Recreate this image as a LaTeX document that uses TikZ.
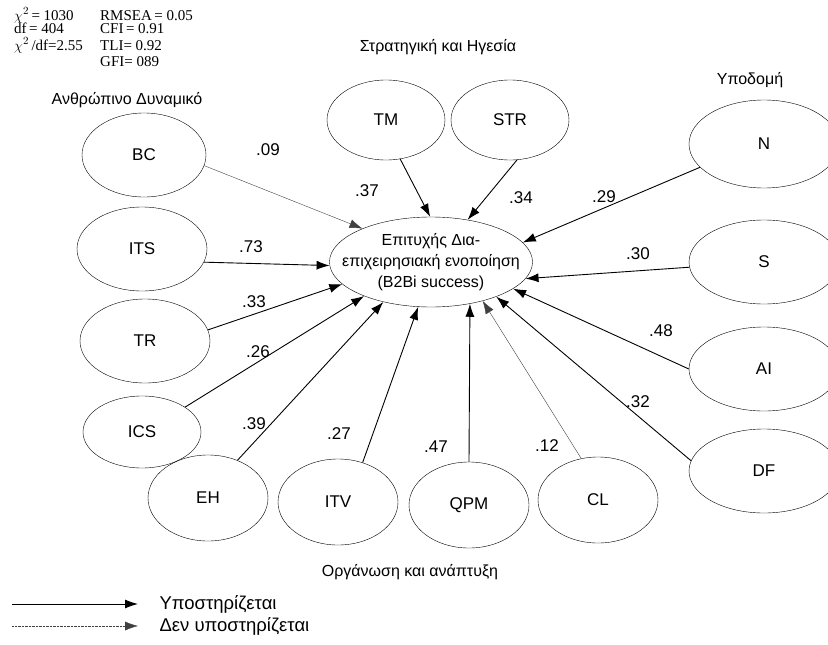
\documentclass[tikz,border=0pt]{standalone}
\usepackage{fontspec}
\setmainfont{Liberation Sans}
\newfontfamily\statfont{Liberation Serif}
\usetikzlibrary{shapes.geometric,arrows.meta,positioning}

\tikzset{
  factor/.style={draw, ellipse, inner sep=0pt, minimum width=120pt, minimum height=84pt,
    font=\fontsize{17}{19}\selectfont},
  sigline/.style={-{Latex[length=13pt,width=9pt]}, line width=0.9pt},
  nsline/.style={-{Latex[length=13pt,width=9pt]}, line width=0.4pt, black!75},
  coef/.style={font=\fontsize{17}{19}\selectfont},
  grouplbl/.style={font=\fontsize{16}{18}\selectfont},
  legendlbl/.style={font=\fontsize{18.5}{20}\selectfont, anchor=west},
  statlbl/.style={font=\statfont\fontsize{15}{16}\selectfont, anchor=base west, inner sep=0pt},
}

\begin{document}
\begin{tikzpicture}[x=1pt, y=1pt]
        \clip (0,0) rectangle (828,-645);

        % fit indices
        \node[statlbl] (chi) at (14,-20) {$\chi^2$\,= 1030};
        \node[statlbl] (df) at (14,-34) {df\,= 404};
        \node[statlbl] (chidf) at (14,-50) {$\chi^2$\,/df=2.55};
        \node[statlbl] (rmsea) at (100,-20) {RMSEA\,= 0.05};
        \node[statlbl] (cfi) at (100,-34) {CFI\,= 0.91};
        \node[statlbl] (tli) at (100,-50) {TLI= 0.92};
        \node[statlbl] (gfi) at (100,-66) {GFI= 089};

        % outcome
        \node[draw, ellipse, inner xsep=-17pt, inner ysep=3pt, minimum width=192pt, minimum height=90pt,
          align=center, font=\fontsize{16}{21}\selectfont] (b2bi) at (431,-262)
          {Επιτυχής Δια-\\επιχειρησιακή ενοποίηση\\(B2Bi success)};

        % Strategy and leadership
        \node[grouplbl] (strat) at (438,-47) {Στρατηγική και Ηγεσία};
        \node[factor, minimum width=118pt, minimum height=80pt] (TM) at (386,-120) {TM};
        \node[factor, minimum width=118pt, minimum height=80pt] (STR) at (510,-120) {STR};

        % Human capital
        \node[grouplbl] (human) at (127,-100) {Ανθρώπινο Δυναμικό};
        \node[factor, minimum width=124pt] (BC) at (144,-155) {BC};
        \node[factor, minimum width=130pt] (ITS) at (142,-249) {ITS};
        \node[factor, minimum width=130pt] (TR) at (145,-341) {TR};
        \node[factor, minimum width=118pt, minimum height=72pt] (ICS) at (142,-432) {ICS};

        % Organisation and development
        \node[factor, minimum height=86pt] (EH) at (208,-498) {EH};
        \node[factor, minimum height=86pt] (ITV) at (338,-502) {ITV};
        \node[factor, minimum height=86pt] (QPM) at (469,-505) {QPM};
        \node[factor, minimum height=86pt] (CL) at (598,-500) {CL};
        \node[grouplbl] (org) at (410,-572) {Οργάνωση και ανάπτυξη};

        % Infrastructure
        \node[grouplbl] (infra) at (750,-80) {Υποδομή};
        \node[factor, minimum width=150pt, minimum height=88pt] (N) at (764,-144) {N};
        \node[factor, minimum width=150pt, minimum height=84pt] (S) at (764,-262) {S};
        \node[factor, minimum width=150pt, minimum height=84pt] (AI) at (764,-369) {AI};
        \node[factor, minimum width=150pt, minimum height=84pt] (DF) at (764,-471) {DF};

        % paths
        \draw[nsline] (BC.-10) -- (b2bi.154);
        \draw[sigline] (ITS.-12) -- (b2bi.182);
        \draw[sigline] (TR.10) -- (b2bi.194);
        \draw[sigline] (ICS.30) -- (b2bi.207);
        \draw[sigline] (EH.52) -- (b2bi.220);
        \draw[sigline] (ITV.58) -- (b2bi.254);
        \draw[sigline] (QPM.90) -- (b2bi.313);
        \draw[nsline] (CL.112) -- (b2bi.323);
        \draw[sigline] (DF.172) -- (b2bi.332);
        \draw[sigline] (AI.180) -- (b2bi.342);
        \draw[sigline] (S.184) -- (b2bi.350);
        \draw[sigline] (N.200) -- (b2bi.12);
        \draw[sigline] (TM.-70) -- (b2bi.91);
        \draw[sigline] (STR.-80) -- (b2bi.49);

        % coefficients
        \node[coef] (c09) at (268,-150) {.09};
        \node[coef] (c73) at (251,-247) {.73};
        \node[coef] (c33) at (254,-302) {.33};
        \node[coef] (c26) at (258,-352) {.26};
        \node[coef] (c39) at (254,-424) {.39};
        \node[coef] (c27) at (339,-434) {.27};
        \node[coef] (c47) at (436,-447) {.47};
        \node[coef] (c12) at (547,-446) {.12};
        \node[coef] (c32) at (638,-402) {.32};
        \node[coef] (c48) at (661,-331) {.48};
        \node[coef] (c30) at (638,-254) {.30};
        \node[coef] (c29) at (604,-197) {.29};
        \node[coef] (c37) at (367,-191) {.37};
        \node[coef] (c34) at (521,-198) {.34};

        % legend
        \coordinate (sa) at (12,-604);
        \coordinate (sb) at (138,-604);
        \coordinate (na) at (12,-626);
        \coordinate (nb) at (138,-626);
        \draw[sigline] (sa) -- (sb);
        \draw[nsline, densely dotted] (na) -- (nb);
        \node[legendlbl] (supp) at (156,-604) {Υποστηρίζεται};
        \node[legendlbl] (nsupp) at (156,-626) {Δεν υποστηρίζεται};
\end{tikzpicture}
\end{document}
